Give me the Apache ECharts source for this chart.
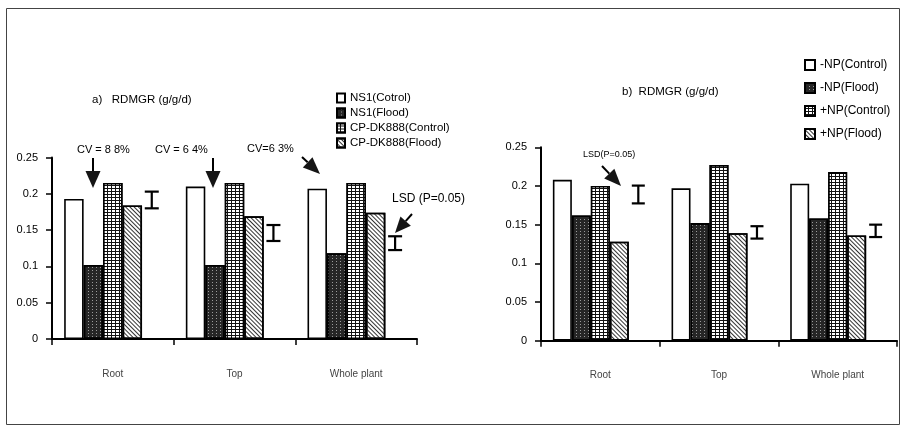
<!DOCTYPE html>
<html><head><meta charset="utf-8">
<script src="https://cdn.jsdelivr.net/npm/echarts@6/dist/echarts.min.js"></script>
<style>html,body{margin:0;padding:0;background:#fff}#c{width:904px;height:426px}</style>
</head><body><div id="c"></div>
<script>
// ---- data ----
const categories = ['Root', 'Top', 'Whole plant'];
const aNames = ['NS1(Cotrol)', 'NS1(Flood)', 'CP-DK888(Control)', 'CP-DK888(Flood)'];
const aNS1Control = [0.193, 0.210, 0.207];
const aNS1Flood   = [0.102, 0.102, 0.118];
const aDKControl  = [0.215, 0.215, 0.215];
const aDKFlood    = [0.184, 0.169, 0.174];
const aLSDCenter  = [0.1915, 0.146, 0.132];
const aLSDHalf    = [0.0115, 0.011, 0.0095];
const bNames = ['-NP(Control)', '-NP(Flood)', '+NP(Control)', '+NP(Flood)'];
const bNPControl  = [0.208, 0.197, 0.203];
const bNPFlood    = [0.162, 0.152, 0.158];
const bPNPControl = [0.200, 0.227, 0.218];
const bPNPFlood   = [0.128, 0.139, 0.136];
const bLSDCenter  = [0.189, 0.140, 0.142];
const bLSDHalf    = [0.0115, 0.008, 0.008];

const FONT = 'Liberation Sans, Arial, sans-serif';
const styles = [
  { color: '#ffffff' },
  { color: '#262626', decal: { symbol: 'rect', symbolSize: 1, dashArrayX: [1, 3], dashArrayY: [1, 2], color: '#9a9a9a' } },
  { color: '#111111', decal: { symbol: 'rect', symbolSize: 1, dashArrayX: [3, 1], dashArrayY: [2, 1], color: '#ffffff' } },
  { color: '#ffffff', decal: { symbol: 'rect', symbolSize: 1, dashArrayX: [1, 0], dashArrayY: [1, 1.6], rotation: Math.PI / 4, color: '#333333' } }
];
const GAP = 0.2;

function barSeries(name, data, style, gi) {
  return { type: 'bar', name, data, xAxisIndex: gi, yAxisIndex: gi, barGap: '0%', barCategoryGap: (GAP * 100) + '%',
    itemStyle: Object.assign({}, style, { borderColor: '#000', borderWidth: 1.6 }) };
}
function lsdSlot(name, data, gi) {
  return { type: 'bar', name, data, xAxisIndex: gi, yAxisIndex: gi, barGap: '0%', barCategoryGap: (GAP * 100) + '%',
    silent: true, itemStyle: { color: 'rgba(0,0,0,0)', borderWidth: 0 } };
}
function lsdBars(centers, halves, gi, capHalf) {
  return {
    type: 'custom', xAxisIndex: gi, yAxisIndex: gi, z: 5, silent: true,
    data: centers.map((v, i) => [i, v, halves[i]]),
    renderItem: function (params, api) {
      const i = api.value(0), c = api.value(1), h = api.value(2);
      const band = api.size([1, 0])[0];
      const barW = band * (1 - GAP) / 5;
      const mid = api.coord([i, c]);
      const x = mid[0] + 2 * barW;
      const yt = api.coord([i, c + h])[1];
      const yb = api.coord([i, c - h])[1];
      const st = { stroke: '#000', lineWidth: 2.2 };
      return { type: 'group', children: [
        { type: 'line', shape: { x1: x, y1: yt, x2: x, y2: yb }, style: st },
        { type: 'line', shape: { x1: x - capHalf, y1: yt, x2: x + capHalf, y2: yt }, style: st },
        { type: 'line', shape: { x1: x - capHalf, y1: yb, x2: x + capHalf, y2: yb }, style: st }
      ] };
    }
  };
}
function xAx(gi) {
  return { type: 'category', gridIndex: gi, data: categories,
    axisLine: { lineStyle: { color: '#000', width: 2 } },
    axisTick: { show: true, length: 6, lineStyle: { color: '#000', width: 1.5 } },
    axisLabel: { margin: 30, fontSize: 10, color: '#444', fontFamily: FONT } };
}
function yAx(gi) {
  return { type: 'value', gridIndex: gi, min: 0, max: 0.25, interval: 0.05,
    axisLine: { show: true, lineStyle: { color: '#000', width: 2 } },
    axisTick: { show: true, length: 6, lineStyle: { color: '#000', width: 1.5 } },
    splitLine: { show: false },
    axisLabel: { margin: 14, fontSize: 11, color: '#000', fontFamily: FONT } };
}
function arrow(x1, y1, x2, y2, hl, hw) {
  const dx = x2 - x1, dy = y2 - y1, L = Math.hypot(dx, dy), ux = dx / L, uy = dy / L;
  const bx = x2 - ux * hl, by = y2 - uy * hl, px = -uy, py = ux;
  return [
    { type: 'line', shape: { x1, y1, x2: bx, y2: by }, style: { stroke: '#000', lineWidth: 2 } },
    { type: 'polygon', shape: { points: [[x2, y2], [bx + px * hw / 2, by + py * hw / 2], [bx - px * hw / 2, by - py * hw / 2]] }, style: { fill: '#151515' } }
  ];
}
function txt(x, y, text, size) {
  return { type: 'text', x, y, style: { text, fontSize: size, fontFamily: FONT, fill: '#000', textVerticalAlign: 'middle' } };
}

const chart = echarts.init(document.getElementById('c'), null, { renderer: 'canvas' });
chart.setOption({
  animation: false,
  backgroundColor: '#fff',
  grid: [
    { left: 52, top: 157.5, width: 365, height: 181.5 },
    { left: 541, top: 147.3, width: 356, height: 193.4 }
  ],
  xAxis: [xAx(0), xAx(1)],
  yAxis: [yAx(0), yAx(1)],
  legend: [
    { data: aNames, orient: 'vertical', left: 331, top: 87, itemWidth: 8, itemHeight: 9, itemGap: 3, icon: 'rect',
      textStyle: { fontSize: 11.5, fontFamily: FONT, color: '#000' } },
    { data: bNames, orient: 'vertical', left: 799, top: 54, itemWidth: 10, itemHeight: 10, itemGap: 11, icon: 'rect',
      textStyle: { fontSize: 12, fontFamily: FONT, color: '#000' } }
  ],
  series: [
    barSeries(aNames[0], aNS1Control, styles[0], 0),
    barSeries(aNames[1], aNS1Flood, styles[1], 0),
    barSeries(aNames[2], aDKControl, styles[2], 0),
    barSeries(aNames[3], aDKFlood, styles[3], 0),
    lsdSlot('LSD a', aLSDCenter, 0),
    lsdBars(aLSDCenter, aLSDHalf, 0, 7),
    barSeries(bNames[0], bNPControl, styles[0], 1),
    barSeries(bNames[1], bNPFlood, styles[1], 1),
    barSeries(bNames[2], bPNPControl, styles[2], 1),
    barSeries(bNames[3], bPNPFlood, styles[3], 1),
    lsdSlot('LSD b', bLSDCenter, 1),
    lsdBars(bLSDCenter, bLSDHalf, 1, 6.5)
  ],
  graphic: [
    { type: 'rect', shape: { x: 6.5, y: 8.5, width: 893, height: 416 }, style: { fill: null, stroke: '#444', lineWidth: 1 } },
    txt(92, 100, 'a)   RDMGR (g/g/d)', 11.5),
    txt(622, 92, 'b)  RDMGR (g/g/d)', 11.5),
    txt(77, 150, 'CV = 8 8%', 11),
    txt(155, 150, 'CV = 6 4%', 11),
    txt(247, 149, 'CV=6 3%', 11),
    txt(392, 199, 'LSD (P=0.05)', 12),
    txt(583, 155, 'LSD(P=0.05)', 9),
    ...arrow(93, 158, 93, 188, 17, 15),
    ...arrow(213, 158, 213, 188, 17, 15),
    ...arrow(302, 157, 320, 174, 17, 14),
    ...arrow(412, 214, 395, 233, 16, 14),
    ...arrow(602, 166, 621, 186, 17, 14)
  ]
});
</script>
</body></html>
